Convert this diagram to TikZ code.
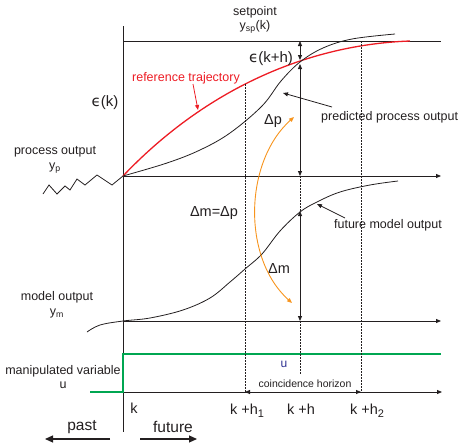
\documentclass[tikz,border=0pt]{standalone}
\usepackage{fontspec}
\setmainfont{Liberation Sans}
\newfontfamily\epsfont{DejaVu Sans}
\usetikzlibrary{arrows.meta}
\definecolor{ink}      {HTML}{231F20}
\definecolor{refred}   {HTML}{ED1C24}
\definecolor{arcorange}{HTML}{F7941D}
\definecolor{ugreen}   {HTML}{00A651}
\definecolor{ublue}    {HTML}{2E3192}
\newcommand{\lowsub}[1]{\raisebox{-3pt}{\fontsize{11}{12}\selectfont #1}}

\begin{document}
\begin{tikzpicture}[
  x=1pt, y=-1pt,
  lbl/.style={font=\fontsize{12.5}{14.5}\selectfont, text=ink, align=center, inner sep=0pt},
  big/.style={font=\fontsize{14.5}{16}\selectfont, text=ink, inner sep=0pt},
  axis/.style={draw=ink, line width=0.8pt},
  hint/.style={draw=ink, line width=0.8pt, dash pattern=on 1.5pt off 1.5pt},
  >={Triangle[length=5pt,width=4pt]}
]
\useasboundingbox (0,0) rectangle (459,445);
% axes and levels
\coordinate (k0) at (123,26);  \coordinate (k1) at (123,432);
\coordinate (sp0) at (123,41); \coordinate (sp1) at (441,41);
\coordinate (yp0) at (123,176); \coordinate (yp1) at (441,176);
\coordinate (ym0) at (123,321); \coordinate (ym1) at (441,321);
\coordinate (u0) at (123,392);  \coordinate (u1) at (442,392);
\draw[axis] (k0) -- (k1);
\draw[axis] (sp0) -- (sp1);
\foreach \a/\b in {yp0/yp1,ym0/ym1,u0/u1}{\draw[axis,->] (\a) -- (\b);}
% manipulated variable
\coordinate (uold) at (90,392); \coordinate (unew) at (123,354); \coordinate (uend) at (441,354);
\draw[ugreen, line width=1.3pt] (uold) -- (u0) -- (unew) -- (uend);
% measured history
\draw[axis] (43,194) -- (49,185) -- (57,194) -- (65,186) -- (70,190) -- (77,179)
  -- (85,185) -- (97,175) -- (112,185) -- (yp0);
% trajectories
\draw[refred, line width=1.3pt] (yp0) .. controls (200,95) and (300,45) .. (410,41);
\draw[axis] plot[smooth, tension=0.6] coordinates {(123,176) (167,163) (200,150) (230,133)
  (262,106) (281,81) (300,62) (323,48) (352,39) (395,34)};
\draw[axis] plot[smooth, tension=0.6] coordinates {(87,332) (100,325) (123,321) (150,318)
  (183,310) (210,298) (230,282) (245,269) (262,254) (280,231) (300,212) (317,202)
  (340,192) (370,185) (398,181)};
% horizon markers
\coordinate (h1top) at (245,84);  \coordinate (h1bot) at (245,392);
\coordinate (h2top) at (361,41);  \coordinate (h2bot) at (361,392);
\coordinate (hsp) at (300,41); \coordinate (hxa) at (300,60); \coordinate (hxb) at (300,64);
\coordinate (hp) at (300,176); \coordinate (hm) at (300,211);
\coordinate (hym) at (300,321); \coordinate (hend) at (300,375);
\foreach \a/\b in {h1top/h1bot,h2top/h2bot,hp/hm,hym/hend}{\draw[hint] (\a) -- (\b);}
\foreach \a/\b in {hsp/hxa,hxb/hp,hm/hym,h1bot/h2bot}{\draw[axis,<->] (\a) -- (\b);}
% labels
\node[lbl] (splbl) at (255,20) {setpoint\\y\textsubscript{sp}(k)};
\node[lbl] (pvlbl) at (55,160) {process output\\y\textsubscript{p}};
\node[lbl] (mvlbl) at (57,305) {model output\\y\textsubscript{m}};
\node[lbl] (uvlbl) at (63,377) {manipulated variable\\u};
\node[lbl, text=refred] (reflbl) at (186,78) {reference trajectory};
\node[lbl, anchor=west] (pplbl) at (321,117) {predicted process output};
\node[lbl] (fmlbl) at (388,225) {future model output};
\node[big, font=\fontsize{15}{17}\selectfont] (eklbl) at (105,103) {{\epsfont ϵ}(k)};
\node[big, font=\fontsize{15}{17}\selectfont] (ehlbl) at (271,59) {{\epsfont ϵ}(k+h)};
\node[big] (dplbl) at (273,121) {Δp};
\node[big] (eqlbl) at (214,213) {Δm=Δp};
\node[big] (dmlbl) at (279,269) {Δm};
\node[lbl, text=ublue, font=\fontsize{12}{14}\selectfont] (ulbl) at (284,364) {u};
\node[lbl, font=\fontsize{10.5}{12}\selectfont] (chlbl) at (305,384) {coincidence horizon};
\node[big] (klbl) at (134,408) {k};
\node[big, anchor=base] (h1lbl) at (247,414) {k +h\lowsub{1}};
\node[big, anchor=base] (hlbl) at (301,414) {k +h};
\node[big, anchor=base] (h2lbl) at (367,414) {k +h\lowsub{2}};
\node[big, font=\fontsize{15.5}{17}\selectfont] (pastlbl) at (82,427) {past};
\node[big, font=\fontsize{15.5}{17}\selectfont] (futlbl) at (173,427) {future};
% pointers
\coordinate (refpt) at (198,110);
\coordinate (pptail) at (332,107); \coordinate (ppt) at (283,93);
\coordinate (fmtail) at (345,218); \coordinate (fmpt) at (317,204);
\draw[refred, line width=0.8pt, ->] ([xshift=7pt]reflbl.south) -- (refpt);
\foreach \a/\b in {pptail/ppt,fmtail/fmpt}{\draw[axis,->] (\a) -- (\b);}
\coordinate (dptip) at (294,117); \coordinate (dmtip) at (292,303);
\draw[arcorange, line width=0.9pt, <->] (dptip) .. controls +(-50,45) and +(-50,-45) .. (dmtip);
% past / future
\coordinate (pastR) at (110,439); \coordinate (pastL) at (45,439);
\coordinate (futL) at (140,439);  \coordinate (futR) at (197,439);
\foreach \a/\b in {pastR/pastL,futL/futR}{\draw[axis, line width=1.2pt, -{Triangle[length=8pt,width=7pt]}] (\a) -- (\b);}
\end{tikzpicture}
\end{document}
